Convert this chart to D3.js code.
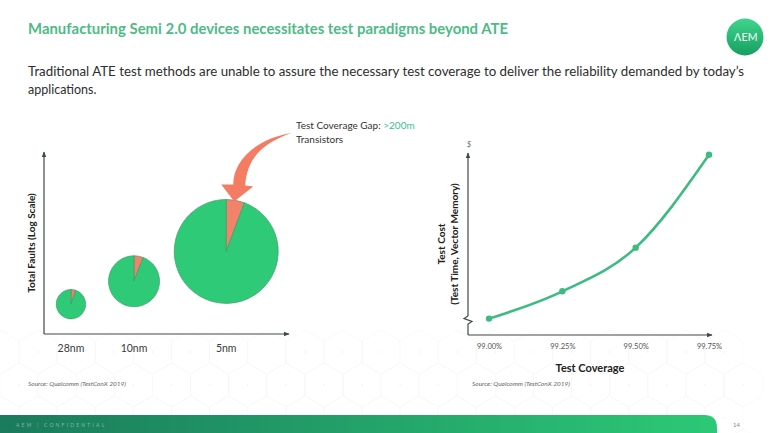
<!DOCTYPE html>
<html>
<head>
<meta charset="utf-8">
<script src="https://cdn.jsdelivr.net/npm/d3@7"></script>
<style>
  body { margin: 0; background: #fff; }
  svg { display: block; font-family: Lato, "Open Sans", sans-serif; }
</style>
</head>
<body>
<div id="viz"></div>
<script>
// left chart: total faults per process node
var nodes = ["28nm", "10nm", "5nm"];
var nodePos = [0.88, 2.94, 5.95];     // position along node axis (relative)
var faults = [1, 3, 12.5];            // total faults, relative
var gapShare = [0.053, 0.058, 0.057]; // untested share (test coverage gap)

// right chart: test cost vs coverage
var coverage = [99.00, 99.25, 99.50, 99.75];
var cost = [9, 24, 48, 99];
var covTicks = ["99.00%", "99.25%", "99.50%", "99.75%"];

var width = 770, height = 433;
var green = "#3dbb80", bubble = "#2fca78", coral = "#f3826a";

var svg = d3.select("#viz").append("svg")
  .attr("width", width)
  .attr("height", height);

var defs = svg.append("defs");

var band = defs.append("linearGradient").attr("id", "band");
band.append("stop").attr("offset", "0%").attr("stop-color", "#1a7a5c");
band.append("stop").attr("offset", "100%").attr("stop-color", "#2cc976");

var logoGrad = defs.append("linearGradient").attr("id", "logo")
  .attr("x1", 0).attr("y1", 0).attr("x2", 0).attr("y2", 1);
logoGrad.append("stop").attr("offset", "0%").attr("stop-color", "#3fd58c");
logoGrad.append("stop").attr("offset", "100%").attr("stop-color", "#169f62");

defs.append("marker")
  .attr("id", "tip")
  .attr("viewBox", "0 0 10 10")
  .attr("refX", 9).attr("refY", 5)
  .attr("markerWidth", 5).attr("markerHeight", 5)
  .attr("orient", "auto")
  .append("path")
  .attr("d", "M0,1 L10,5 L0,9 z")
  .attr("fill", "#3c4a44");

// faint hex network in the lower background
var hex = svg.append("g");
var hr = 22;
for (var row = 0; row < 4; row++) {
  for (var col = 0; col < 20; col++) {
    var cx = col * hr * 1.732 + (row % 2 ? hr * 0.866 : 0);
    var cy = 352 + row * hr * 1.5;
    var pts = d3.range(6).map(function(k) {
      var a = Math.PI / 3 * k + Math.PI / 6;
      return [cx + hr * Math.cos(a), cy + hr * Math.sin(a)];
    });
    hex.append("path")
      .attr("d", "M" + pts.join("L") + "Z")
      .attr("fill", "none")
      .attr("stroke", "#f4f5f5")
      .attr("stroke-width", 0.5);
    hex.append("circle").attr("cx", cx).attr("cy", cy).attr("r", 0.8).attr("fill", "#ebeeed");
  }
}

// title + intro
svg.append("text")
  .attr("x", 28).attr("y", 34)
  .attr("textLength", 480).attr("lengthAdjust", "spacingAndGlyphs")
  .style("font-size", "15.5px").style("font-weight", "bold")
  .attr("fill", "#4dbb86")
  .text("Manufacturing Semi 2.0 devices necessitates test paradigms beyond ATE");

svg.append("text")
  .attr("x", 28).attr("y", 76)
  .attr("textLength", 716).attr("lengthAdjust", "spacingAndGlyphs")
  .style("font-size", "12.5px").attr("fill", "#2e2e2e")
  .text("Traditional ATE test methods are unable to assure the necessary test coverage to deliver the reliability demanded by today\u2019s");
svg.append("text")
  .attr("x", 28).attr("y", 94)
  .style("font-size", "12.5px").attr("fill", "#2e2e2e")
  .text("applications.");

// logo
svg.append("circle").attr("cx", 745).attr("cy", 37).attr("r", 18.5)
  .attr("fill", "url(#logo)");
svg.append("text").attr("x", 746).attr("y", 41)
  .attr("text-anchor", "middle").attr("fill", "#fff")
  .style("font-size", "10.5px").style("letter-spacing", "0.3px")
  .text("\u039BEM");

// ---------- left: bubbles ----------
var lx = d3.scaleLinear().domain([0, 8]).range([44, 289]);
var ly = d3.scaleLog().domain([0.24, 1460]).range([334, 152]);
var lr = d3.scaleSqrt().domain([0, 12.5]).range([0, 52]);

var left = svg.append("g");
left.append("line")
  .attr("x1", lx(0)).attr("x2", lx(0)).attr("y1", 334).attr("y2", 152)
  .attr("stroke", "#3c4a44").attr("stroke-width", 1.2).attr("marker-end", "url(#tip)");
left.append("line")
  .attr("x1", lx(0)).attr("x2", lx(8)).attr("y1", 334).attr("y2", 334)
  .attr("stroke", "#3c4a44").attr("stroke-width", 1.2).attr("marker-end", "url(#tip)");

var pie = d3.pie().sort(null).value(function(d) { return d; });
var bubbles = nodes.map(function(n, i) {
  return { node: n, x: lx(nodePos[i]), y: ly(faults[i]), r: lr(faults[i]), gap: gapShare[i] };
});

var g = left.selectAll(".bubble").data(bubbles).enter().append("g")
  .attr("class", "bubble")
  .attr("transform", function(d) { return "translate(" + d.x + "," + d.y + ")"; });

g.selectAll("path")
  .data(function(d) {
    return pie([d.gap, 1 - d.gap]).map(function(s) { s.r = d.r; return s; });
  })
  .enter().append("path")
  .attr("d", function(s) { return d3.arc().innerRadius(0).outerRadius(s.r)(s); })
  .attr("fill", function(s, i) { return i === 0 ? coral : bubble; })
  .attr("stroke", "#3f9e66").attr("stroke-width", 0.7);

left.selectAll(".nodeLabel").data(bubbles).enter().append("text")
  .attr("x", function(d) { return d.x; }).attr("y", 352)
  .attr("text-anchor", "middle")
  .style("font-size", "10.5px").attr("fill", "#3a3a3a")
  .text(function(d) { return d.node; });

left.append("text")
  .attr("transform", "translate(35,243)rotate(-90)")
  .attr("text-anchor", "middle")
  .style("font-size", "10px").style("font-weight", "bold").attr("fill", "#222")
  .text("Total Faults (Log Scale)");

// coverage gap arrow onto the 5nm bubble
var big = bubbles[2];
var tx = big.x + 8, ty = big.y - big.r + 2;
left.append("path")
  .attr("transform", "translate(" + tx + "," + ty + ")")
  .attr("d", "M0,0 L-13,-17 L-1,-17 C-1,-40 20,-62 57,-68.5 " +
             "C34,-60 13,-48 11,-16 L19,-15 Z")
  .attr("fill", "#f47c62");

var note = left.append("text").attr("x", 296).attr("y", 129)
  .style("font-size", "10px").attr("fill", "#333");
note.append("tspan").text("Test Coverage Gap: ");
note.append("tspan").attr("fill", "#3cc08a").text(">200m");
left.append("text").attr("x", 296).attr("y", 143)
  .style("font-size", "10px").attr("fill", "#333").text("Transistors");

left.append("text").attr("x", 28).attr("y", 386)
  .style("font-size", "6.5px").style("font-style", "italic").attr("fill", "#666")
  .text("Source: Qualcomm (TestConX 2019)");

// ---------- right: cost curve ----------
var rx = d3.scaleLinear().domain([99.0, 99.75]).range([489, 709]);
var ry = d3.scaleLinear().domain([0, 100]).range([335, 153]);
var x0 = 468, xEnd = 712;

var right = svg.append("g");
right.append("line")
  .attr("x1", x0).attr("x2", x0).attr("y1", 316).attr("y2", 153)
  .attr("stroke", "#3c4a44").attr("stroke-width", 1.2).attr("marker-end", "url(#tip)");
right.append("path")
  .attr("d", "M" + x0 + ",316 L464,318.5 L472,321.5 L" + x0 + ",324 L" + x0 + ",335")
  .attr("fill", "none").attr("stroke", "#3c4a44").attr("stroke-width", 1.2);
right.append("line")
  .attr("x1", x0).attr("x2", xEnd).attr("y1", 335).attr("y2", 335)
  .attr("stroke", "#3c4a44").attr("stroke-width", 1.2).attr("marker-end", "url(#tip)");

right.append("text").attr("x", x0 + 1).attr("y", 147)
  .attr("text-anchor", "middle")
  .style("font-size", "7px").style("font-style", "italic").attr("fill", "#666")
  .text("$");

var xAxis = d3.axisBottom(rx).tickValues(coverage)
  .tickFormat(function(d, i) { return covTicks[i]; })
  .tickSize(0).tickPadding(6);
var ax = right.append("g").attr("transform", "translate(0,338)").call(xAxis);
ax.select(".domain").remove();
ax.selectAll("text")
  .style("font-family", "Lato, sans-serif").style("font-size", "7.5px").attr("fill", "#555");

var pts = coverage.map(function(c, i) { return [rx(c), ry(cost[i])]; });
right.append("path")
  .attr("d", d3.line().curve(d3.curveMonotoneX)(pts))
  .attr("fill", "none").attr("stroke", green).attr("stroke-width", 2.6);
right.selectAll(".pt").data(pts).enter().append("circle")
  .attr("cx", function(d) { return d[0]; }).attr("cy", function(d) { return d[1]; })
  .attr("r", 3.2).attr("fill", green);

right.append("text")
  .attr("transform", "translate(445,244)rotate(-90)")
  .attr("text-anchor", "middle")
  .style("font-size", "10px").style("font-weight", "bold").attr("fill", "#222")
  .text("Test Cost");
right.append("text")
  .attr("transform", "translate(458,244)rotate(-90)")
  .attr("text-anchor", "middle")
  .style("font-size", "10px").style("font-weight", "bold").attr("fill", "#222")
  .text("(Test Time, Vector Memory)");

right.append("text").attr("x", 590).attr("y", 372)
  .attr("text-anchor", "middle")
  .style("font-size", "11px").style("font-weight", "bold").attr("fill", "#222")
  .text("Test Coverage");

right.append("text").attr("x", 472).attr("y", 386)
  .style("font-size", "6.5px").style("font-style", "italic").attr("fill", "#666")
  .text("Source: Qualcomm (TestConX 2019)");

// footer band
svg.append("path")
  .attr("d", "M0,415 L704,415 Q717,415 717,428 L717,433 L0,433 Z")
  .attr("fill", "url(#band)");
svg.append("text").attr("x", 16).attr("y", 426.5)
  .style("font-size", "5px").style("letter-spacing", "2.2px")
  .attr("fill", "rgba(255,255,255,0.45)")
  .text("AEM | CONFIDENTIAL");
svg.append("text").attr("x", 733).attr("y", 427)
  .style("font-size", "6px").attr("fill", "#888").text("14");
</script>
</body>
</html>
